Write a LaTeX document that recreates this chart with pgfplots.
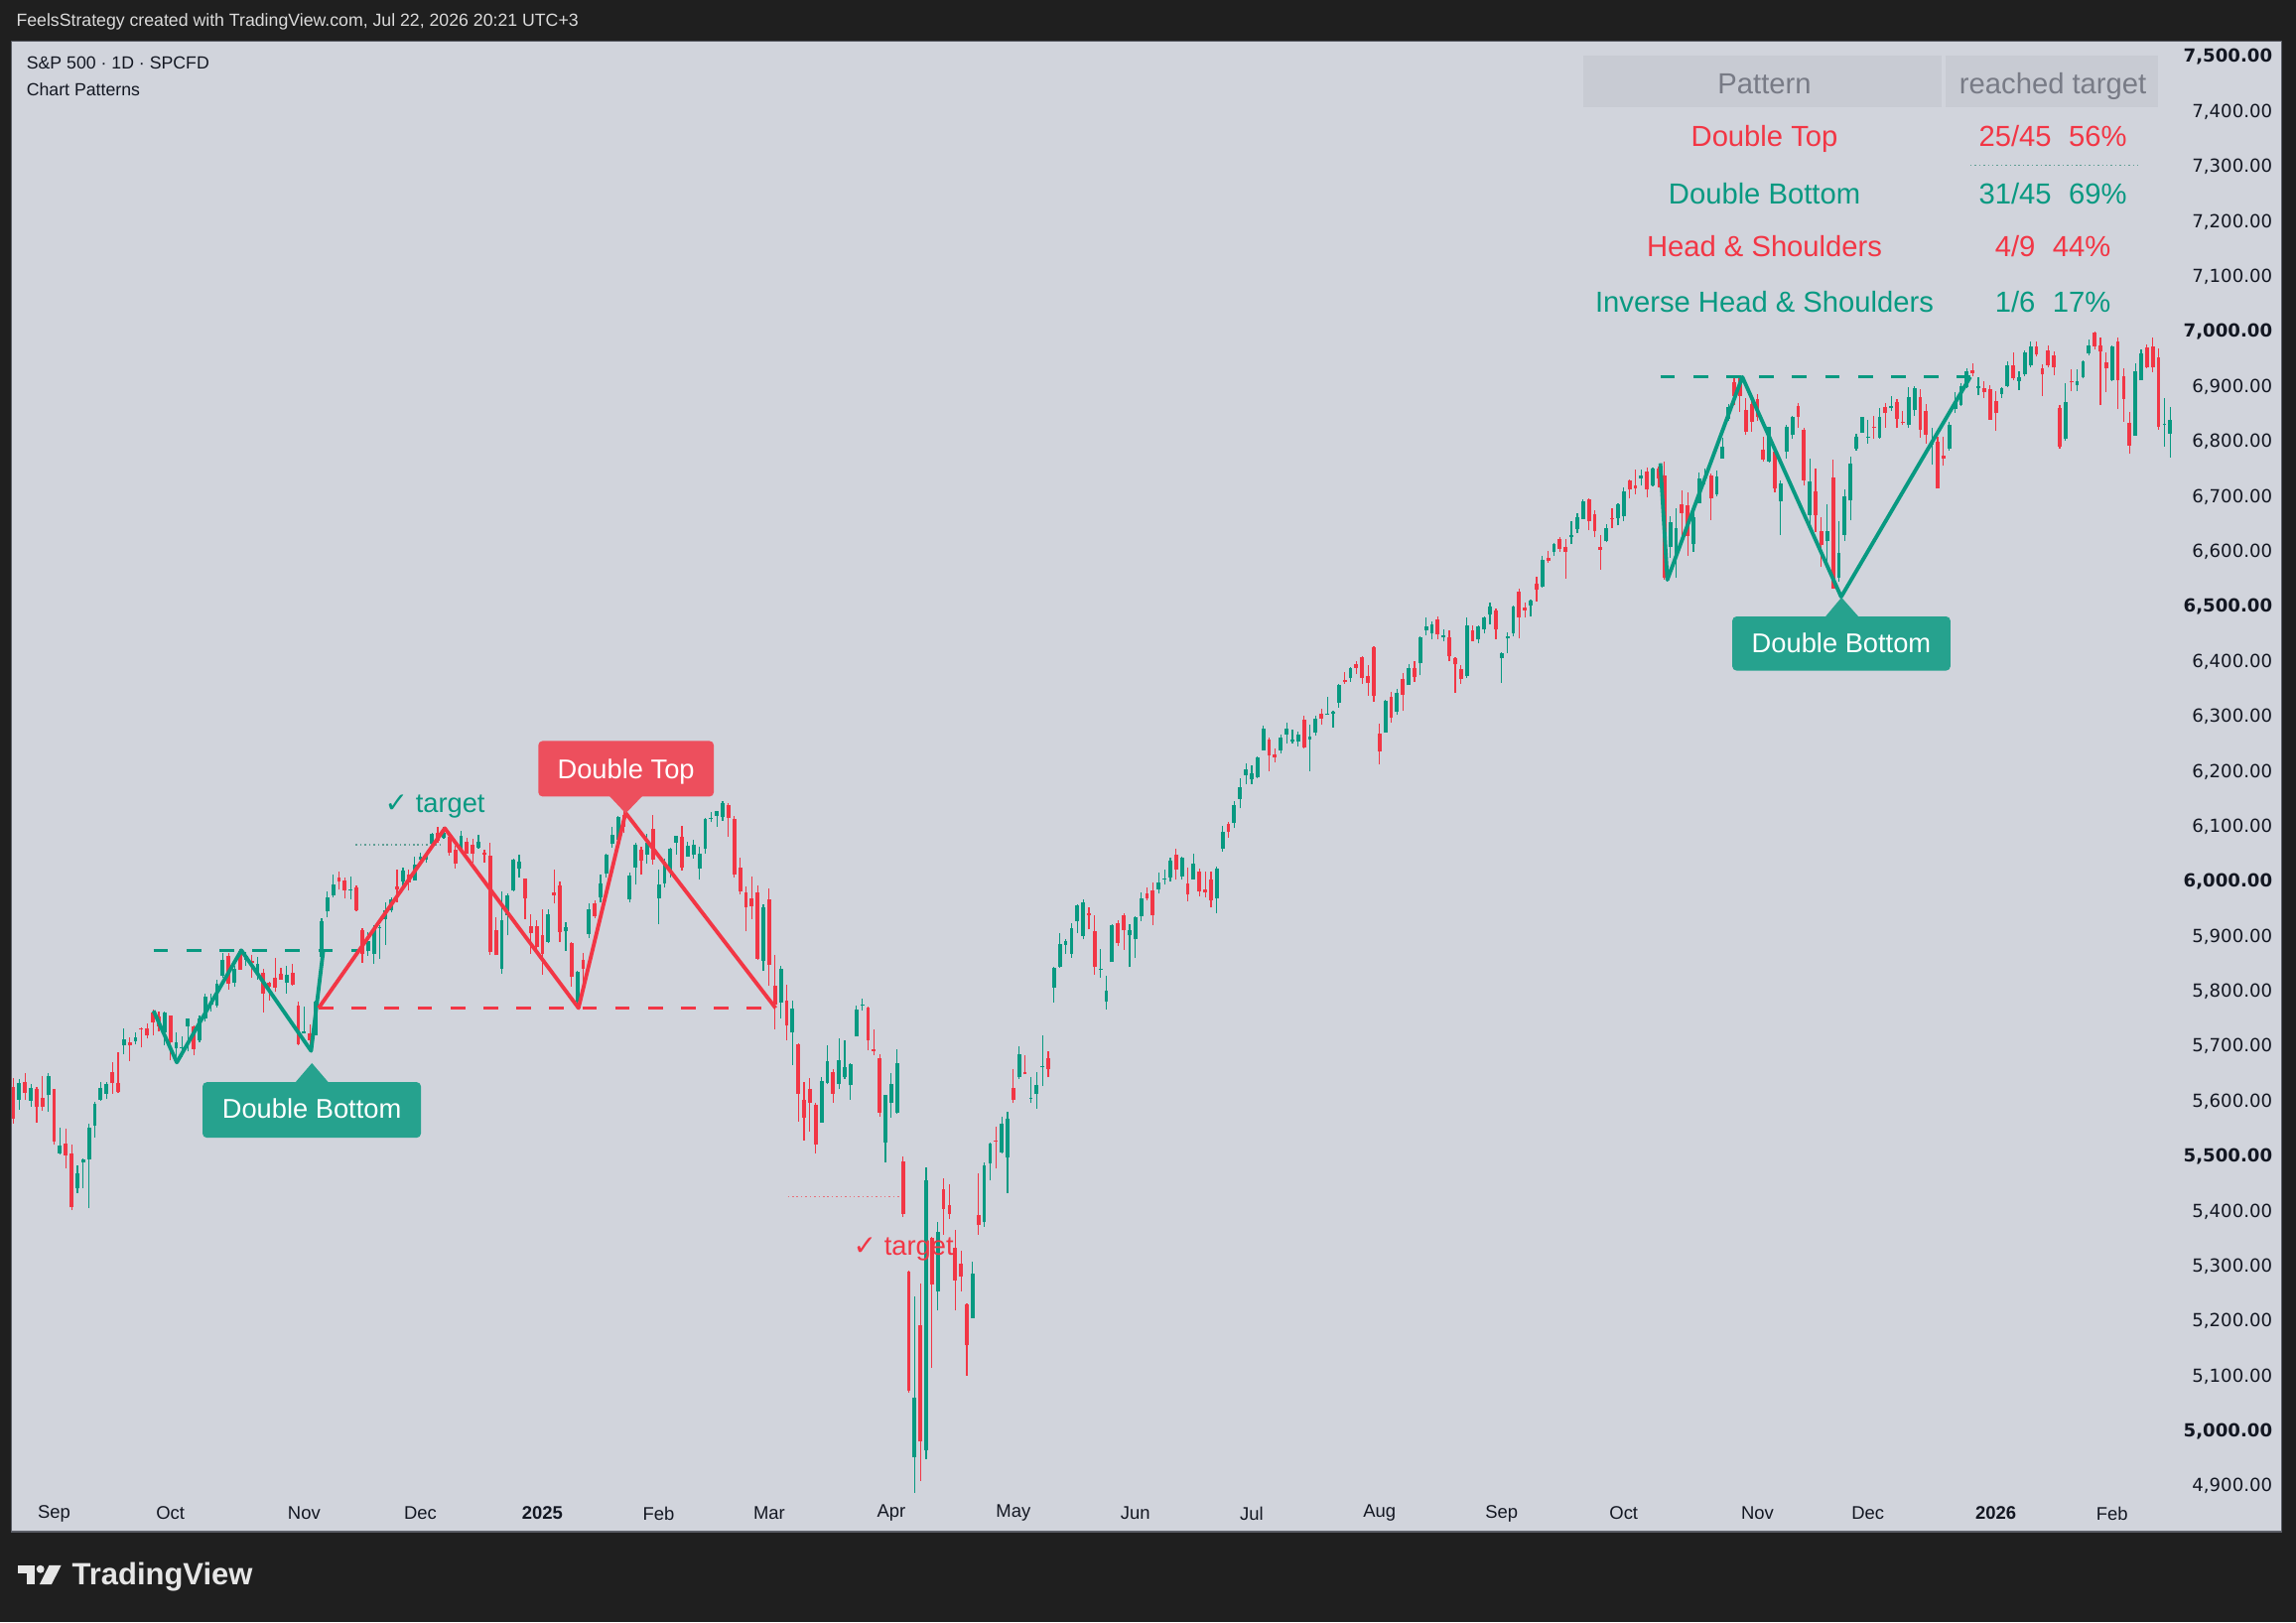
\documentclass[border=0pt]{standalone}
\usepackage{pgfplots}
\pgfplotsset{compat=1.18}
\usepackage{pgfplotstable}
\usepackage{fontspec}
\setmainfont{Liberation Sans}
\newfontfamily\dejavu{DejaVu Sans}
\newcommand{\fs}[1]{\fontsize{#1}{#1}\selectfont}
\definecolor{bgdark}{HTML}{1F1F1F}
\definecolor{panel}{HTML}{D1D4DC}
\definecolor{panelborder}{HTML}{5B5E66}
\definecolor{headtext}{HTML}{DBDBDB}
\definecolor{axtext}{HTML}{131722}
\definecolor{tvgreen}{HTML}{089981}
\definecolor{tvred}{HTML}{F23645}
\definecolor{lgreen}{HTML}{26A28E}
\definecolor{lred}{HTML}{ED4F5D}
\definecolor{thead}{HTML}{C8CBD3}
\definecolor{theadtext}{HTML}{787B86}
\definecolor{dotgreen}{HTML}{5F9E94}
\definecolor{dotred}{HTML}{E8707A}
\definecolor{logo}{HTML}{E6E6E6}

\pgfplotstableread{
i o h l c u
-7 5628 5643 5560 5570 0
-6 5604 5641 5585 5634 1
-5 5637 5651 5602 5616 0
-4 5602 5631 5590 5625 1
-3 5624 5627 5561 5592 0
-2 5607 5646 5583 5592 0
-1 5612 5651 5581 5648 1
0 5623 5623 5521 5528 0
1 5507 5552 5503 5520 1
2 5524 5551 5478 5503 0
3 5507 5522 5402 5408 0
4 5443 5484 5434 5471 1
5 5490 5497 5442 5496 1
6 5496 5560 5406 5554 1
7 5557 5600 5535 5596 1
8 5603 5636 5601 5626 1
9 5615 5636 5604 5633 1
10 5655 5671 5614 5634 0
11 5635 5689 5615 5618 0
12 5703 5733 5686 5714 1
13 5709 5716 5674 5703 0
14 5711 5725 5704 5718 1
15 5733 5735 5698 5732 0
16 5733 5742 5714 5722 0
17 5762 5767 5721 5745 0
18 5755 5764 5727 5738 0
19 5727 5763 5703 5762 1
20 5757 5757 5675 5709 0
21 5698 5726 5675 5709 1
22 5698 5718 5681 5699 1
23 5738 5751 5691 5751 1
24 5737 5739 5684 5696 0
25 5713 5757 5708 5751 1
26 5751 5797 5745 5792 1
27 5778 5796 5764 5780 1
28 5775 5822 5771 5815 1
29 5829 5871 5825 5859 1
30 5866 5870 5804 5815 0
31 5816 5846 5808 5843 1
32 5875 5878 5840 5841 0
33 5859 5872 5846 5865 1
34 5857 5866 5825 5853 0
35 5833 5863 5822 5851 1
36 5835 5842 5762 5797 0
37 5816 5817 5784 5809 0
38 5826 5862 5799 5808 0
39 5834 5843 5823 5823 0
40 5816 5847 5797 5832 1
41 5835 5850 5811 5813 0
42 5775 5781 5703 5705 0
43 5724 5772 5723 5729 1
44 5725 5741 5696 5712 0
45 5722 5783 5722 5782 1
46 5864 5933 5864 5929 1
47 5947 5983 5935 5973 1
48 5976 6012 5971 5996 1
49 6008 6018 5985 6001 0
50 6003 6007 5969 5984 0
51 5985 6009 5968 5985 1
52 5990 5993 5946 5949 0
53 5912 5915 5853 5870 0
54 5874 5908 5865 5893 1
55 5870 5920 5850 5917 1
56 5917 5921 5860 5917 1
57 5933 5963 5885 5949 1
58 5948 5972 5944 5969 1
59 5992 6021 5963 5987 0
60 6001 6025 5993 6021 1
61 6014 6021 5984 5999 0
62 6003 6045 6003 6032 1
63 6040 6053 6030 6047 1
64 6041 6052 6034 6050 1
65 6069 6089 6061 6087 1
66 6089 6099 6070 6075 0
67 6081 6100 6077 6090 1
68 6083 6088 6048 6053 0
69 6058 6066 6024 6034 0
70 6060 6092 6059 6085 1
71 6074 6080 6051 6051 0
72 6068 6078 6035 6051 0
73 6063 6085 6059 6074 1
74 6053 6058 6035 6050 0
75 6048 6071 5867 5872 0
76 5913 5935 5866 5867 0
77 5842 5982 5832 5931 1
78 5940 5978 5902 5975 1
79 5984 6041 5982 6040 1
80 6024 6049 6007 6037 1
81 6006 6006 5932 5971 0
82 5920 5941 5869 5907 0
83 5920 5929 5869 5882 0
84 5904 5950 5830 5869 0
85 5891 5949 5888 5942 1
86 5982 6022 5960 5975 0
87 5994 6000 5890 5909 0
88 5910 5927 5874 5918 1
89 5890 5890 5809 5827 0
90 5782 5838 5773 5836 1
91 5859 5871 5803 5842 0
92 5906 5960 5897 5950 1
93 5962 5965 5933 5937 0
94 5973 6013 5962 5997 1
95 6015 6051 6007 6049 1
96 6069 6100 6062 6086 1
97 6077 6119 6075 6119 1
98 6122 6128 6089 6101 0
99 5969 6017 5962 6012 1
100 6027 6070 5994 6068 1
101 6058 6064 6012 6039 0
102 6050 6086 6032 6071 1
103 6097 6121 6031 6041 0
104 5970 6022 5923 5995 1
105 5998 6042 5990 6038 1
106 6020 6062 6007 6061 1
107 6072 6084 6049 6084 1
108 6083 6101 6020 6026 0
109 6047 6073 6045 6066 1
110 6049 6076 6042 6068 1
111 6025 6063 6003 6051 1
112 6060 6116 6051 6115 1
113 6115 6127 6108 6115 1
114 6121 6129 6100 6129 1
115 6118 6147 6111 6144 1
116 6141 6143 6082 6117 0
117 6115 6119 6008 6013 0
118 6027 6043 5977 5983 0
119 5982 5992 5909 5955 0
120 5970 6009 5932 5956 0
121 5981 5993 5858 5861 0
122 5857 5959 5837 5955 1
123 5969 5987 5810 5850 0
124 5811 5866 5732 5778 0
125 5781 5846 5751 5842 1
126 5785 5812 5711 5739 0
127 5726 5783 5667 5770 1
128 5705 5706 5564 5615 0
129 5603 5636 5529 5572 0
130 5624 5642 5546 5599 0
131 5594 5597 5505 5522 0
132 5563 5645 5563 5639 1
133 5635 5703 5631 5675 1
134 5655 5659 5598 5615 0
135 5632 5715 5622 5676 1
136 5646 5711 5641 5663 1
137 5630 5670 5603 5668 1
138 5719 5775 5719 5768 1
139 5775 5787 5765 5777 1
140 5771 5772 5693 5712 0
141 5696 5732 5685 5693 0
142 5679 5686 5572 5581 0
143 5527 5612 5489 5612 1
144 5598 5651 5571 5633 1
145 5580 5695 5577 5671 1
146 5492 5500 5390 5397 0
147 5292 5292 5070 5074 0
148 4953 5246 4835 5062 1
149 5194 5268 4910 4982 0
150 4966 5481 4950 5457 1
151 5353 5353 5115 5268 0
152 5256 5381 5220 5363 1
153 5441 5460 5358 5406 0
154 5412 5450 5386 5396 0
155 5335 5367 5220 5276 0
156 5306 5328 5255 5283 0
157 5232 5233 5101 5158 0
158 5207 5309 5207 5288 1
159 5395 5470 5358 5376 0
160 5381 5489 5372 5485 1
161 5489 5526 5456 5525 1
162 5529 5554 5478 5528 0
163 5508 5572 5505 5561 1
164 5499 5581 5433 5569 1
165 5626 5658 5597 5604 0
166 5645 5700 5641 5687 1
167 5655 5684 5651 5650 0
168 5606 5644 5597 5607 1
169 5614 5654 5587 5631 1
170 5663 5721 5628 5664 1
171 5680 5692 5644 5660 0
172 5808 5845 5780 5844 1
173 5845 5906 5843 5887 1
174 5886 5896 5868 5892 1
175 5869 5924 5862 5917 1
176 5929 5959 5907 5958 1
177 5902 5968 5895 5964 1
178 5944 5954 5913 5940 0
179 5910 5939 5830 5845 0
180 5841 5878 5825 5842 1
181 5782 5829 5767 5803 1
182 5854 5922 5854 5922 1
183 5925 5930 5883 5889 0
184 5939 5943 5876 5912 0
185 5903 5923 5844 5912 1
186 5897 5937 5861 5936 1
187 5938 5981 5928 5970 1
188 5979 5990 5966 5971 0
189 5985 5999 5921 5939 0
190 5987 6017 5978 6000 1
191 6004 6022 5994 6006 1
192 6009 6043 6000 6039 1
193 6049 6059 6003 6022 0
194 6010 6045 6003 6045 1
195 5997 6026 5964 5977 0
196 6005 6050 6004 6033 1
197 6020 6024 5974 5983 0
198 5987 6018 5971 5981 0
199 6005 6019 5953 5967 0
200 5970 6028 5943 6025 1
201 6061 6101 6055 6092 1
202 6105 6108 6080 6092 0
203 6107 6146 6097 6141 1
204 6151 6188 6133 6173 1
205 6194 6215 6178 6205 1
206 6187 6211 6177 6198 1
207 6191 6227 6188 6227 1
208 6240 6284 6240 6279 1
209 6259 6262 6201 6230 0
210 6233 6243 6217 6226 0
211 6240 6268 6233 6263 1
212 6268 6290 6251 6280 1
213 6256 6277 6251 6260 1
214 6255 6273 6246 6268 1
215 6295 6302 6242 6244 0
216 6259 6285 6201 6264 1
217 6272 6301 6265 6297 1
218 6306 6315 6285 6297 0
219 6304 6336 6303 6306 1
220 6306 6310 6281 6309 1
221 6326 6360 6317 6359 1
222 6368 6381 6360 6364 0
223 6371 6390 6364 6389 1
224 6397 6402 6378 6390 0
225 6410 6410 6360 6371 0
226 6375 6393 6338 6362 0
227 6428 6428 6327 6339 0
228 6271 6288 6213 6238 0
229 6272 6330 6272 6330 1
230 6337 6345 6289 6299 0
231 6309 6350 6303 6345 1
232 6370 6379 6310 6340 0
233 6358 6395 6358 6389 1
234 6389 6402 6364 6374 0
235 6398 6446 6375 6446 1
236 6458 6481 6448 6466 1
237 6452 6474 6441 6469 1
238 6478 6482 6441 6450 0
239 6445 6459 6437 6449 1
240 6446 6457 6401 6411 0
241 6407 6408 6343 6396 0
242 6388 6393 6360 6370 0
243 6375 6481 6370 6467 1
244 6458 6467 6438 6439 0
245 6441 6466 6434 6466 1
246 6460 6482 6451 6481 1
247 6486 6508 6468 6502 1
248 6495 6497 6441 6460 0
249 6407 6417 6361 6416 1
250 6443 6453 6416 6448 1
251 6453 6502 6446 6502 1
252 6529 6533 6442 6482 0
253 6499 6508 6480 6495 0
254 6503 6513 6483 6512 1
255 6543 6555 6510 6532 0
256 6537 6592 6535 6587 1
257 6589 6601 6580 6584 0
258 6600 6616 6593 6615 1
259 6624 6627 6600 6606 0
260 6609 6624 6551 6600 0
261 6628 6656 6614 6631 1
262 6642 6671 6634 6664 1
263 6661 6695 6660 6693 1
264 6696 6697 6639 6656 0
265 6669 6676 6626 6638 0
266 6609 6630 6567 6605 0
267 6620 6650 6617 6644 1
268 6662 6680 6643 6661 0
269 6662 6689 6648 6688 1
270 6665 6718 6656 6711 1
271 6731 6731 6698 6715 0
272 6722 6750 6705 6716 0
273 6734 6749 6720 6740 1
274 6747 6754 6699 6714 0
275 6722 6753 6719 6753 1
276 6753 6755 6717 6735 0
277 6740 6764 6550 6553 0
278 6610 6665 6589 6654 1
279 6594 6680 6552 6644 1
280 6688 6711 6618 6671 0
281 6686 6709 6593 6630 0
282 6615 6677 6600 6664 1
283 6690 6744 6690 6735 1
284 6734 6752 6722 6735 1
285 6740 6742 6658 6699 0
286 6705 6748 6700 6738 1
287 6770 6807 6770 6792 1
288 6843 6869 6838 6864 1
289 6909 6920 6867 6885 0
290 6918 6922 6855 6885 0
291 6858 6880 6812 6819 0
292 6870 6880 6818 6837 0
293 6879 6886 6838 6846 0
294 6786 6810 6764 6768 0
295 6765 6828 6762 6828 1
296 6783 6790 6708 6716 0
297 6692 6730 6630 6726 1
298 6783 6830 6770 6828 1
299 6813 6848 6805 6846 1
300 6866 6870 6826 6847 0
301 6823 6826 6720 6731 0
302 6668 6770 6643 6728 1
303 6710 6752 6636 6668 0
304 6638 6663 6572 6614 0
305 6620 6686 6581 6638 1
306 6736 6767 6534 6534 0
307 6554 6656 6545 6599 1
308 6632 6713 6620 6701 1
309 6694 6774 6657 6761 1
310 6789 6814 6784 6810 1
311 6817 6846 6816 6846 1
312 6809 6840 6797 6811 1
313 6827 6848 6805 6826 0
314 6809 6862 6806 6846 1
315 6864 6870 6826 6853 0
316 6862 6883 6857 6867 1
317 6873 6878 6825 6843 0
318 6838 6856 6830 6836 0
319 6831 6899 6825 6883 1
320 6858 6901 6847 6899 1
321 6883 6896 6808 6823 0
322 6857 6869 6797 6813 0
323 6796 6826 6758 6798 1
324 6801 6809 6716 6716 0
325 6775 6810 6756 6771 0
326 6789 6836 6784 6832 1
327 6861 6890 6853 6876 1
328 6868 6906 6865 6903 1
329 6901 6933 6898 6929 1
330 6932 6943 6920 6925 0
331 6899 6918 6885 6903 1
332 6898 6910 6880 6891 0
333 6897 6903 6841 6841 0
334 6875 6893 6820 6853 0
335 6888 6900 6880 6899 1
336 6903 6946 6900 6941 1
337 6941 6963 6912 6917 0
338 6912 6928 6895 6918 1
339 6924 6966 6920 6963 1
340 6940 6983 6936 6974 1
341 6974 6983 6955 6960 0
342 6934 6941 6884 6923 0
343 6967 6975 6935 6940 0
344 6958 6965 6922 6936 0
345 6863 6867 6787 6792 0
346 6806 6907 6802 6873 1
347 6911 6932 6892 6909 0
348 6904 6932 6893 6912 1
349 6918 6948 6915 6947 1
350 6961 6986 6957 6976 1
351 6999 7000 6969 6975 0
352 6976 6990 6867 6966 0
353 6945 6962 6891 6935 0
354 6913 6976 6910 6974 1
355 6983 6990 6859 6913 0
356 6921 6933 6837 6879 0
357 6835 6855 6778 6794 0
358 6812 6942 6812 6929 1
359 6913 6968 6913 6961 1
360 6972 6978 6934 6936 0
361 6974 6990 6927 6936 0
362 6954 6970 6822 6828 0
363 6831 6879 6792 6833 1
364 6816 6864 6772 6840 1
}\candles

\begin{document}
\begin{tikzpicture}
\useasboundingbox (0pt,0pt) rectangle (1568pt,1108pt);
\fill[bgdark] (0pt,0pt) rectangle (1568pt,1108pt);
\fill[panel] (8pt,62pt) rectangle (1558pt,1080pt);
\draw[panelborder, line width=0.8pt] (8pt,62pt) rectangle (1558pt,1080pt);

\begin{axis}[
  at={(8pt,89pt)}, anchor=south west, scale only axis,
  width=1480pt, height=991.2pt,
  xmin=-7.3, xmax=365.5, ymin=4889.3, ymax=7529.8,
  axis line style={draw=none}, tick style={draw=none}, major tick length=0pt,
  xtick={0,20,43,63,84,104,123,144,165,186,206,228,249,270,293,312,334,354},
  xticklabels={Sep,Oct,Nov,Dec,\textbf{2025},Feb,Mar,Apr,May,Jun,Jul,Aug,Sep,Oct,Nov,Dec,\textbf{2026},Feb},
  xticklabel style={font=\fs{12.5}, text=axtext, anchor=center, yshift=-14.5pt},
  ytick={4900,5000,...,7500},
  yticklabel pos=right,
  yticklabels={{4,900.00},{\textbf{5,000.00}},{5,100.00},{5,200.00},{5,300.00},{5,400.00},{\textbf{5,500.00}},{5,600.00},{5,700.00},{5,800.00},{5,900.00},{\textbf{6,000.00}},{6,100.00},{6,200.00},{6,300.00},{6,400.00},{\textbf{6,500.00}},{6,600.00},{6,700.00},{6,800.00},{6,900.00},{\textbf{7,000.00}},{7,100.00},{7,200.00},{7,300.00},{7,400.00},{\textbf{7,500.00}}},
  yticklabel style={font=\dejavu\fs{12.3}, text=axtext, anchor=east, inner sep=0pt, xshift=64pt},
  clip=true,
]
% target lines
\addplot[dotgreen, line width=1pt, dash pattern=on 1pt off 2pt] coordinates {(51.9,6067) (67,6067)};
\addplot[dotred, line width=1pt, dash pattern=on 1pt off 2pt] coordinates {(126.2,5427) (145.8,5427)};
\addplot[dotgreen, line width=1pt, dash pattern=on 1pt off 2pt] coordinates {(329.6,7303) (359,7303)};
% wicks (zero-length segments for the other colour)
\addplot[tvgreen, line width=0.8pt, line cap=butt,
  quiver={u=0, v={\thisrow{u}*(\thisrow{h}-\thisrow{l})}}]
  table[x=i, y=l] {\candles};
\addplot[tvred, line width=0.8pt, line cap=butt,
  quiver={u=0, v={(1-\thisrow{u})*(\thisrow{h}-\thisrow{l})}}]
  table[x=i, y=l] {\candles};
% bodies
\addplot[tvgreen, line width=2.6pt, line cap=butt,
  quiver={u=0, v={\thisrow{u}*max(abs(\thisrow{c}-\thisrow{o}),1.8)}}]
  table[x=i, y expr={min(\thisrow{o},\thisrow{c})-0.9}] {\candles};
\addplot[tvred, line width=2.6pt, line cap=butt,
  quiver={u=0, v={(1-\thisrow{u})*max(abs(\thisrow{c}-\thisrow{o}),1.8)}}]
  table[x=i, y expr={min(\thisrow{o},\thisrow{c})-0.9}] {\candles};
% necklines
\addplot[tvgreen, line width=2pt, dash pattern=on 10pt off 12.5pt] coordinates {(17.1,5875) (52.5,5875)};
\addplot[tvred, line width=2pt, dash pattern=on 10pt off 12.5pt] coordinates {(45.5,5770) (123,5770)};
\addplot[tvgreen, line width=2pt, dash pattern=on 10pt off 12.5pt] coordinates {(276.3,6918) (329.6,6918)};
% pattern zigzags
\addplot[tvgreen, line width=2.6pt, line join=round] coordinates {(17.1,5765) (21.1,5671) (32.2,5875) (44.2,5692) (46.3,5875)};
\addplot[tvred, line width=2.6pt, line join=round] coordinates {(45.5,5770) (67.2,6097) (90.2,5770) (98.3,6125) (124.1,5770)};
\addplot[tvgreen, line width=2.6pt, line join=round] coordinates {(276.3,6761) (277.5,6549) (290.4,6918) (307.4,6518) (329.6,6918)};
\end{axis}

\begin{scope}[x=1pt,y=1pt]
% header
\node[anchor=west, inner sep=0pt, text=headtext, font=\fs{12}] at (11,1093) {FeelsStrategy created with TradingView.com, Jul 22, 2026 20:21 UTC+3};
\node[anchor=west, inner sep=0pt, text=axtext, font=\fs{12}] at (18,1065) {S\&P 500 · 1D · SPCFD};
\node[anchor=west, inner sep=0pt, text=axtext, font=\fs{12}] at (18,1047) {Chart Patterns};
% table
\fill[thead] (1081,1070) rectangle (1326,1035);
\fill[thead] (1329,1070) rectangle (1474,1035);
\node[anchor=base, inner sep=0pt, text=theadtext, font=\fs{19.8}] at (1205,1044) {Pattern};
\node[anchor=base, inner sep=0pt, text=theadtext, font=\fs{19.8}] at (1402,1044) {reached target};
\node[anchor=base, inner sep=0pt, text=tvred, font=\fs{19.8}] at (1205,1008) {Double Top};
\node[anchor=base, inner sep=0pt, text=tvred, font=\fs{19.8}] at (1402,1008) {25/45\hspace{0.6em}56\%};
\node[anchor=base, inner sep=0pt, text=tvgreen, font=\fs{19.8}] at (1205,969) {Double Bottom};
\node[anchor=base, inner sep=0pt, text=tvgreen, font=\fs{19.8}] at (1402,969) {31/45\hspace{0.6em}69\%};
\node[anchor=base, inner sep=0pt, text=tvred, font=\fs{19.8}] at (1205,933) {Head \& Shoulders};
\node[anchor=base, inner sep=0pt, text=tvred, font=\fs{19.8}] at (1402,933) {4/9\hspace{0.6em}44\%};
\node[anchor=base, inner sep=0pt, text=tvgreen, font=\fs{19.8}] at (1205,895) {Inverse Head \& Shoulders};
\node[anchor=base, inner sep=0pt, text=tvgreen, font=\fs{19.8}] at (1402,895) {1/6\hspace{0.6em}17\%};
% label boxes
\fill[lgreen, rounded corners=3pt] (138.3,369) rectangle (287.5,331);
\fill[lgreen] (201,368) -- (213,382) -- (225,368) -- cycle;
\node[anchor=base, inner sep=0pt, text=white, font=\fs{18.5}] at (212.9,344) {Double Bottom};
\fill[lred, rounded corners=3pt] (367.6,602) rectangle (487.5,564);
\fill[lred] (415.6,565) -- (427.3,552.5) -- (439.3,565) -- cycle;
\node[anchor=base, inner sep=0pt, text=white, font=\fs{18.5}] at (427.5,576) {Double Top};
\fill[lgreen, rounded corners=3pt] (1183,687) rectangle (1332,650);
\fill[lgreen] (1245.9,686) -- (1257.6,700) -- (1270,686) -- cycle;
\node[anchor=base, inner sep=0pt, text=white, font=\fs{18.5}] at (1257.5,662) {Double Bottom};
% target texts
\node[anchor=base, inner sep=0pt, text=tvgreen, font=\fs{18.5}] at (297,553) {{\dejavu\fs{19}✓} target};
\node[anchor=base, inner sep=0pt, text=tvred, font=\fs{18.5}] at (617,251) {{\dejavu\fs{19}✓} target};
% logo
\fill[logo] (12.4,39.1) rectangle (23.7,33.4);
\fill[logo] (18.5,39.1) rectangle (23.7,26);
\fill[logo] (27.6,36.4) circle (2.7);
\fill[logo] (33.6,39.1) -- (41.8,39.1) -- (35.2,26) -- (27,26) -- cycle;
\node[anchor=base west, inner sep=0pt, text=logo, font=\bfseries\fs{21}] at (49,26) {TradingView};
\end{scope}
\end{tikzpicture}
\end{document}
